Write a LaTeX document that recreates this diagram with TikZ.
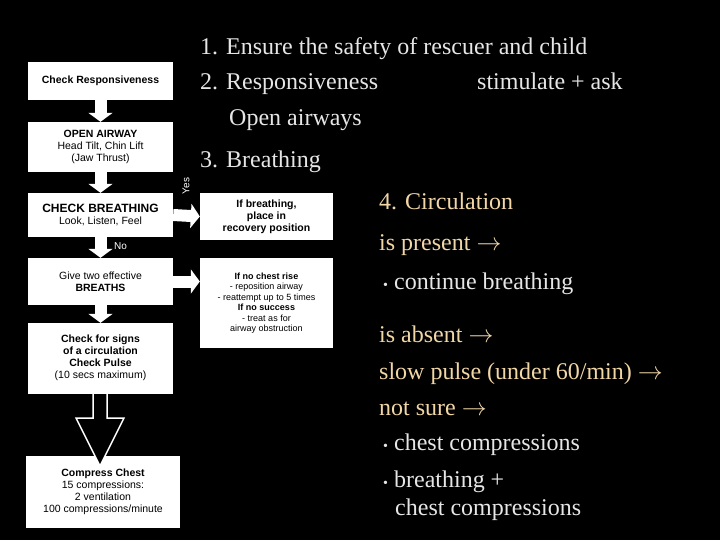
\documentclass[tikz,border=0pt]{standalone}
\usepackage{fontspec}
\setmainfont{Liberation Serif}
\newfontfamily\boxfont{Liberation Sans}
\usetikzlibrary{arrows.meta}
\definecolor{txt}{HTML}{E6E6E6}
\definecolor{org}{HTML}{F2D7A6}
\begin{document}
\begin{tikzpicture}[x=1pt,y=-1pt,
  box/.style={fill=white,draw=none,text=black,font=\boxfont\fontsize{10.5}{12}\selectfont,align=center,inner sep=0pt},
  big/.style={anchor=base west,inner sep=0pt,font=\fontsize{24}{28}\selectfont,text=txt},
  bigo/.style={big,text=org},
  blk/.style={-{Triangle[length=9pt,width=24pt]},line width=12pt,white}]
\fill[black] (0,0) rectangle (720,540);
\useasboundingbox (0,0) rectangle (720,540);
\node[box,minimum width=145,minimum height=38] (b1) at (100.5,81) {\textbf{Check Responsiveness}};
\node[box,minimum width=145,minimum height=50] (b2) at (100.5,147) {\textbf{OPEN AIRWAY}\\Head Tilt, Chin Lift\\(Jaw Thrust)};
\node[box,minimum width=145,minimum height=44] (b3) at (100.5,215) {\textbf{\fontsize{12}{14}\selectfont CHECK BREATHING}\\Look, Listen, Feel};
\node[box,minimum width=145,minimum height=47] (b4) at (100.5,281.5) {Give two effective\\\textbf{BREATHS}};
\node[box,minimum width=145,minimum height=69] (b5) at (100.5,357.5) {\textbf{Check for signs}\\\textbf{of a circulation}\\\textbf{Check Pulse}\\(10 secs maximum)};
\node[box,minimum width=154,minimum height=72] (b6) at (103,492) {\textbf{Compress Chest}\\15 compressions:\\2 ventilation\\100 compressions/minute};
\node[box,minimum width=133,minimum height=47] (r1) at (266.5,216.5) {\textbf{If breathing,}\\\textbf{place in}\\\textbf{recovery position}};
\node[box,minimum width=133,minimum height=90,font=\boxfont\fontsize{9}{10.5}\selectfont] (r2) at (266.5,303) {\textbf{If no chest rise}\\- reposition airway\\- reattempt up to 5 times\\\textbf{If no success}\\- treat as for\\airway obstruction};
\draw[blk] (b1.south) -- (b2.north);
\draw[blk] (b2.south) -- (b3.north);
\draw[blk] (b3.south) -- (b4.north);
\draw[blk] (b4.south) -- (b5.north);
\draw[blk] (b3.east) -- (r1.west);
\draw[blk] (b4.east) -- (r2.west |- b4.east);
\node[text=white,rotate=90,font=\boxfont\fontsize{10}{12}\selectfont,inner sep=0pt] (yes) at (186,186) {Yes};
\node[text=white,font=\boxfont\fontsize{10}{12}\selectfont,inner sep=0pt,anchor=west] (no) at (114,246) {No};
\coordinate (h1) at (b5.south);
\draw[white,line width=1.5pt,fill=black] (93,392) -- (107,392) -- (107,418) -- (124,418) -- (100,466) -- (76,418) -- (93,418) -- cycle;
\node[box,minimum width=145,minimum height=3] (fix) at (100.5,392) {};
\node[big] (t1) at (200,55) {1. Ensure the safety of rescuer and child};
\node[big] (t2) at (200,90) {2. Responsiveness};
\node[big] (t2b) at (477,90) {stimulate + ask};
\node[big] (t2c) at (229,126) {Open airways};
\node[big] (t3) at (200,168) {3. Breathing};
\node[bigo] (t4) at (379,210) {4. Circulation};
\node[bigo] (t5) at (379,251) {is present $\rightarrow$};
\node[big] (t6) at (383,289) {{\fontsize{14}{14}\selectfont\textbullet}\ continue breathing};
\node[bigo] (t7) at (379,342) {is absent $\rightarrow$};
\node[bigo] (t8) at (379,379) {slow pulse (under 60/min) $\rightarrow$};
\node[bigo] (t9) at (379,415) {not sure $\rightarrow$};
\node[big] (t10) at (383,450) {{\fontsize{14}{14}\selectfont\textbullet}\ chest compressions};
\node[big] (t11) at (383,487) {{\fontsize{14}{14}\selectfont\textbullet}\ breathing +};
\node[big] (t12) at (395,515) {chest compressions};
\end{tikzpicture}
\end{document}
